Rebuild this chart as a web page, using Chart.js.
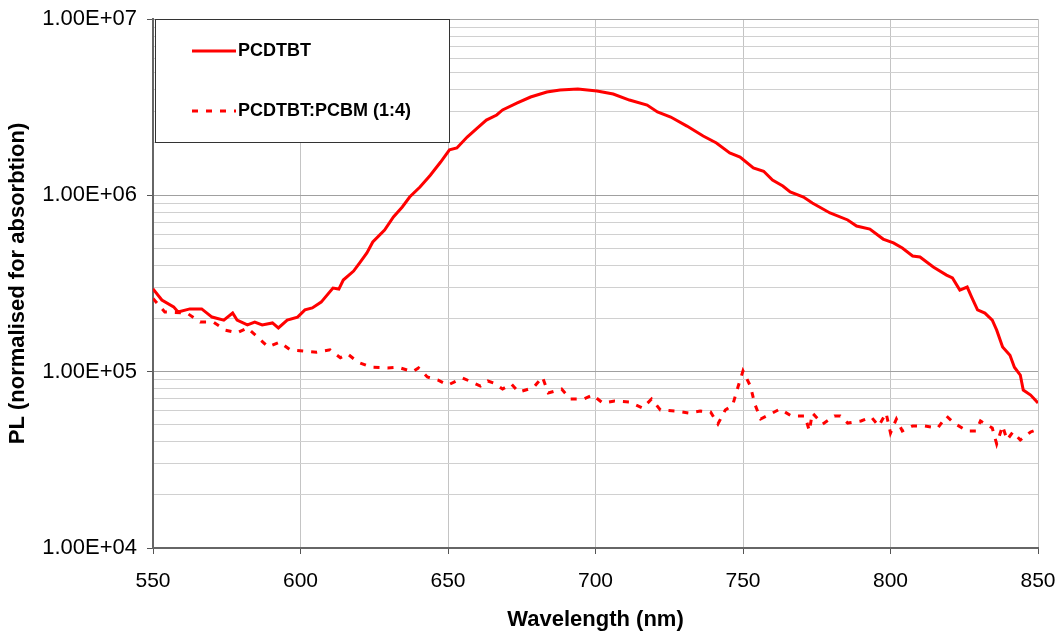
<!DOCTYPE html>
<html>
<head>
<meta charset="utf-8">
<script src="https://cdn.jsdelivr.net/npm/chart.js@4.4.0/dist/chart.umd.min.js"></script>
<style>
  body { margin: 0; background: #fff; }
  #wrap { width: 1060px; height: 635px; }
</style>
</head>
<body>
<div id="wrap"><canvas id="plChart" width="1060" height="635"></canvas></div>
<script>
// PL spectra (wavelength in nm, PL normalised for absorption)
const pcdtbtNm = [550, 553, 557, 558.5, 562.5, 566.5, 570, 574, 577, 578.5, 582, 584.5, 587, 590.5, 592.5, 595.5,
    599, 601.5, 604, 607, 611, 613, 614.5, 618, 620, 622.5, 624.5, 628.5, 631.5, 634.5, 637, 640.5, 644, 647.5,
    650.5, 653, 656.5, 660, 663, 666.5, 668.5, 673.5, 678, 683.5, 688, 694, 700.5, 706, 711.5, 717.5, 721, 725.5,
    731, 736.5, 741, 745.5, 749, 753.5, 757, 760, 763.5, 766, 770.5, 773.5, 779.5, 785.5, 788.5, 793, 797.5, 801,
    804, 807.5, 810, 814.5, 819, 821, 823.5, 826, 827.5, 829.5, 832, 834.5, 836, 838, 840.5, 842, 844, 845, 847.5, 850];
const pcdtbtPL = [2.95e5, 2.55e5, 2.33e5, 2.18e5, 2.27e5, 2.27e5, 2.04e5, 1.96e5, 2.15e5, 1.96e5, 1.84e5, 1.91e5,
    1.84e5, 1.89e5, 1.77e5, 1.96e5, 2.04e5, 2.24e5, 2.30e5, 2.48e5, 2.98e5, 2.94e5, 3.31e5, 3.72e5, 4.13e5, 4.71e5,
    5.44e5, 6.36e5, 7.54e5, 8.59e5, 9.78e5, 1.115e6, 1.30e6, 1.545e6, 1.81e6, 1.855e6, 2.14e6, 2.41e6, 2.67e6,
    2.855e6, 3.05e6, 3.34e6, 3.61e6, 3.855e6, 3.96e6, 4.01e6, 3.91e6, 3.755e6, 3.47e6, 3.25e6, 2.97e6, 2.78e6,
    2.47e6, 2.17e6, 1.98e6, 1.74e6, 1.65e6, 1.43e6, 1.37e6, 1.22e6, 1.13e6, 1.045e6, 9.78e5, 9.05e5, 7.94e5,
    7.25e5, 6.70e5, 6.44e5, 5.65e5, 5.37e5, 5.03e5, 4.53e5, 4.47e5, 3.92e5, 3.53e5, 3.40e5, 2.90e5, 3.02e5,
    2.65e5, 2.24e5, 2.15e5, 1.96e5, 1.72e5, 1.38e5, 1.24e5, 1.06e5, 9.57e4, 7.87e4, 7.37e4, 6.64e4];

const blendNm = [550, 554, 561.5, 566, 570.5, 574.5, 578.5, 582, 585.5, 589, 593, 596.5, 601, 605.5, 610, 613.5,
    616, 619.5, 624, 629.5, 633, 638, 640, 643, 646.5, 650, 655, 658, 661, 663.5, 665.5, 668.5, 671.5, 674, 679,
    682, 684, 688.5, 691.5, 696, 699, 702.5, 706.5, 711.5, 716, 719, 722, 727, 731.5, 735.5, 739, 741.5, 744,
    746.5, 748.5, 750, 752.5, 754, 756, 760, 762.5, 766.5, 771, 772.5, 773.5, 777, 781, 783, 785.5, 790, 793.5,
    796, 798.5, 800, 802, 804, 807.5, 811.5, 816, 819, 821.5, 826, 829, 830.5, 834.5, 836, 838, 839.5, 841.5,
    844, 847.5, 850];
const blendPL = [2.6e5, 2.18e5, 2.15e5, 1.91e5, 1.91e5, 1.72e5, 1.66e5, 1.77e5, 1.57e5, 1.38e5, 1.47e5, 1.33e5,
    1.31e5, 1.29e5, 1.33e5, 1.20e5, 1.26e5, 1.13e5, 1.06e5, 1.05e5, 1.06e5, 1.00e5, 1.05e5, 9.33e4, 8.97e4, 8.40e4,
    9.2e4, 8.74e4, 8.29e4, 8.85e4, 8.62e4, 7.97e4, 8.51e4, 7.66e4, 8.13e4, 9.33e4, 7.57e4, 7.97e4, 7.00e4, 7.00e4,
    7.37e4, 6.64e4, 6.82e4, 6.73e4, 6.22e4, 7.00e4, 6.06e4, 5.98e4, 5.83e4, 5.98e4, 5.91e4, 5.05e4, 6.06e4, 6.47e4,
    8.40e4, 1.01e5, 8.29e4, 6.55e4, 5.39e4, 5.83e4, 6.14e4, 5.60e4, 5.60e4, 4.61e4, 5.83e4, 5.05e4, 5.60e4, 5.60e4,
    5.11e4, 5.25e4, 5.53e4, 4.92e4, 5.83e4, 4.49e4, 5.39e4, 4.61e4, 4.92e4, 4.92e4, 4.79e4, 5.60e4, 5.11e4, 4.61e4,
    4.61e4, 5.25e4, 4.79e4, 3.89e4, 4.92e4, 4.10e4, 4.55e4, 4.10e4, 4.55e4, 4.73e4];

const xTicks = [550, 600, 650, 700, 750, 800, 850];
const yDecades = [1e4, 1e5, 1e6, 1e7];

// gridlines at 1..9 x each decade
let yGrid = [];
yDecades.forEach((d, i) => {
    if (i == yDecades.length - 1) { yGrid.push(d); return; }
    for (let m = 1; m < 10; m++) yGrid.push(m * d);
});
const isDecade = v => yDecades.some(d => Math.abs(v - d) < d * 1e-6);
const sci = v => '1.00E+' + String(Math.round(Math.log10(v))).padStart(2, '0');

const toPoints = (xs, ys) => xs.map((x, i) => ({ x: x, y: ys[i] }));

Chart.defaults.font.family = '"Liberation Sans", Arial, sans-serif';
Chart.defaults.color = '#000';

// Excel-like boxed legend sitting in the top-left corner of the plot
const legendBox = {
    id: 'legendBox',
    afterDraw(chart) {
        const ctx = chart.ctx;
        const area = chart.chartArea;
        let bx = area.left + 2, by = area.top, bw = 294, bh = 123;
        ctx.save();
        ctx.fillStyle = '#fff';
        ctx.fillRect(bx, by, bw, bh);
        ctx.strokeStyle = '#333';
        ctx.lineWidth = 1;
        ctx.strokeRect(bx + 0.5, by + 0.5, bw, bh);
        ctx.font = 'bold 18px "Liberation Sans", Arial, sans-serif';
        ctx.textBaseline = 'middle';
        chart.data.datasets.forEach((ds, i) => {
            let ly = by + 32 + i * 60;
            ctx.strokeStyle = ds.borderColor;
            ctx.lineWidth = ds.borderWidth;
            ctx.setLineDash(ds.borderDash || []);
            ctx.beginPath();
            ctx.moveTo(bx + 37, ly);
            ctx.lineTo(bx + 81, ly);
            ctx.stroke();
            ctx.setLineDash([]);
            ctx.fillStyle = '#000';
            ctx.fillText(ds.label, bx + 83, ly);
        });
        ctx.restore();
    }
};

var plChart = new Chart(document.getElementById('plChart').getContext('2d'), {
    type: 'line',
    data: {
        datasets: [
        {
            label: 'PCDTBT',
            data: toPoints(pcdtbtNm, pcdtbtPL),
            borderColor: '#ff0000',
            borderWidth: 3,
            pointRadius: 0,
            tension: 0,
            fill: false
        },
        {
            label: 'PCDTBT:PCBM (1:4)',
            data: toPoints(blendNm, blendPL),
            borderColor: '#ff0000',
            borderWidth: 3,
            borderDash: [6, 8],
            pointRadius: 0,
            tension: 0,
            fill: false
        }]
    },
    options: {
        responsive: false,
        animation: false,
        layout: { padding: { top: 19, right: 22, left: 0, bottom: 0 } },
        plugins: { legend: { display: false }, tooltip: { enabled: false } },
        scales: {
            x: {
                type: 'linear',
                min: 550,
                max: 850,
                afterBuildTicks: s => { s.ticks = xTicks.map(v => ({ value: v })); },
                afterFit: s => { s.height = 87; s.paddingLeft = 0; s.paddingRight = 0; },
                ticks: { font: { size: 21 }, padding: 15, color: '#000' },
                grid: { color: '#c4c4c4', tickLength: 6, tickColor: '#555' },
                border: { color: '#666', width: 2 },
                title: {
                    display: true,
                    text: 'Wavelength (nm)',
                    font: { size: 22, weight: 'bold' },
                    padding: { top: 0, bottom: 2 }
                }
            },
            y: {
                type: 'logarithmic',
                min: 1e4,
                max: 1e7,
                afterBuildTicks: s => { s.ticks = yGrid.map(v => ({ value: v })); },
                afterFit: s => { s.width = 153; s.paddingTop = 0; s.paddingBottom = 0; },
                ticks: {
                    autoSkip: false,
                    font: { size: 22 },
                    padding: 10,
                    color: '#000',
                    callback: v => isDecade(v) ? sci(v) : ''
                },
                grid: {
                    color: c => isDecade(c.tick.value) ? '#a0a0a0' : '#d0d0d0',
                    tickLength: 6,
                    tickColor: c => isDecade(c.tick.value) ? '#555' : 'rgba(0,0,0,0)'
                },
                border: { color: '#666', width: 2 },
                title: {
                    display: true,
                    text: 'PL (normalised for absorbtion)',
                    font: { size: 22, weight: 'bold' },
                    padding: { top: 5, bottom: 0 }
                }
            }
        }
    },
    plugins: [legendBox]
});
</script>
</body>
</html>
